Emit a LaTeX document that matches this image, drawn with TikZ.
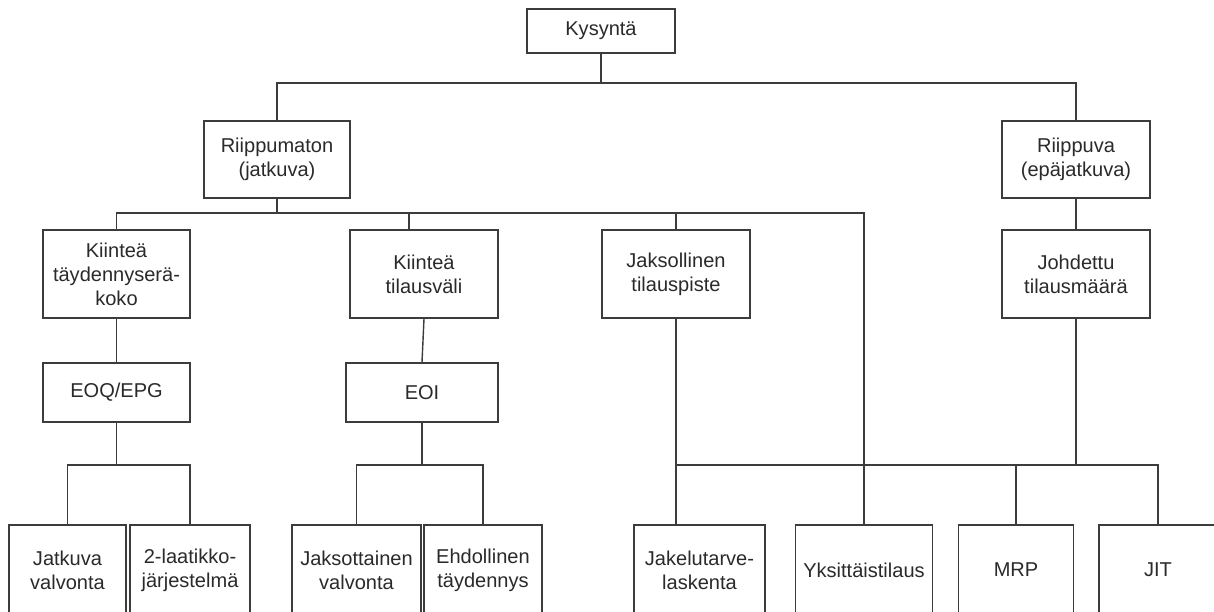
\documentclass[tikz,border=0pt]{standalone}
\usepackage{fontspec}
\setmainfont{Liberation Sans}
\usepackage{xcolor}
\usepackage{tikz}
\usetikzlibrary{positioning}
\definecolor{linec}{HTML}{3C3C3C}
\definecolor{txtc}{HTML}{2A2A2A}
\tikzset{
  box/.style={draw=linec,line width=0.8pt,fill=white,text=txtc,align=center,inner sep=1pt,font=\fontsize{11.4pt}{13.6pt}\selectfont},
  ln/.style={draw=linec,line width=0.8pt},
  wd/.style={minimum width=2.96cm}
}
\begin{document}
\begin{tikzpicture}[x=0.02cm,y=-0.02cm]
\useasboundingbox (0,0) rectangle (1214,612);
\clip (0,0) rectangle (1214,612);
\node[box,wd,minimum height=0.88cm] (kysynta) at (601,31) {Kysyntä};
\node[box,minimum width=2.92cm,minimum height=1.54cm] (riippumaton) at (277,159.5) {Riippumaton\\(jatkuva)};
\node[box,wd,minimum height=1.54cm] (riippuva) at (1076,159.5) {Riippuva\\(epäjatkuva)};
\node[box,minimum width=2.94cm,minimum height=1.76cm] (kiintea) at (116.5,274) {Kiinteä\\täydennyserä-\\koko};
\node[box,wd,minimum height=1.76cm] (tilausvali) at (424,274) {Kiinteä\\tilausväli};
\node[box,wd,minimum height=1.76cm] (jaksollinen) at (676,274) {Jaksollinen\\tilauspiste};
\node[box,wd,minimum height=1.76cm] (johdettu) at (1076,274) {Johdettu\\tilausmäärä};
\node[box,minimum width=2.94cm,minimum height=1.18cm] (eoq) at (116.5,392.5) {EOQ/EPG};
\node[box,minimum width=3.04cm,minimum height=1.18cm] (eoi) at (422,392.5) {EOI};
\node[box,minimum width=2.34cm,minimum height=1.8cm] (jatkuva) at (67.5,570) {Jatkuva\\valvonta};
\node[box,minimum width=2.4cm,minimum height=1.8cm] (laatikko) at (190,570) {2-laatikko-\\järjestelmä};
\node[box,minimum width=2.58cm,minimum height=1.8cm] (jaksottainen) at (356.5,570) {Jaksottainen\\valvonta};
\node[box,minimum width=2.36cm,minimum height=1.8cm] (ehdollinen) at (483,570) {Ehdollinen\\täydennys};
\node[box,minimum width=2.62cm,minimum height=1.8cm] (jakelu) at (699.5,570) {Jakelutarve-\\laskenta};
\node[box,minimum width=2.74cm,minimum height=1.8cm] (yksittainen) at (864,570) {Yksittäistilaus};
\node[box,minimum width=2.3cm,minimum height=1.8cm] (mrp) at (1016,570) {MRP};
\node[box,minimum width=2.36cm,minimum height=1.8cm] (jit) at (1158,570) {JIT};
\coordinate (t1) at (601,83);
\coordinate (t2) at (277,213);
\coordinate (t2b) at (409,213);
\coordinate (t2e) at (864,213);
\coordinate (t3) at (116.5,465);
\coordinate (t4) at (422,465);
\coordinate (t5) at (1076,465);
\draw[ln] (kysynta) -- (t1);
\draw[ln] (riippumaton.north) |- (t1) -| (riippuva.north);
\draw[ln] (riippumaton) -- (t2);
\draw[ln] (kiintea.north) |- (t2e) -- (yksittainen.north);
\draw[ln] (t2b) -- (t2b |- tilausvali.north);
\draw[ln] (jaksollinen.north) -- (jaksollinen.north |- t2);
\draw[ln] (riippuva) -- (johdettu);
\draw[ln] (kiintea) -- (eoq);
\draw[ln] (tilausvali.south) -- (eoi.north);
\draw[ln] (eoq) -- (t3);
\draw[ln] (jatkuva.north) |- (t3) -| (laatikko.north);
\draw[ln] (eoi) -- (t4);
\draw[ln] (jaksottainen.north) |- (t4) -| (ehdollinen.north);
\draw[ln] (jaksollinen.south) -- (jaksollinen.south |- jakelu.north);
\draw[ln] (johdettu) -- (t5);
\draw[ln] (jaksollinen.south |- t5) -| (jit.north);
\draw[ln] (mrp.north) -- (mrp.north |- t5);
\end{tikzpicture}
\end{document}
